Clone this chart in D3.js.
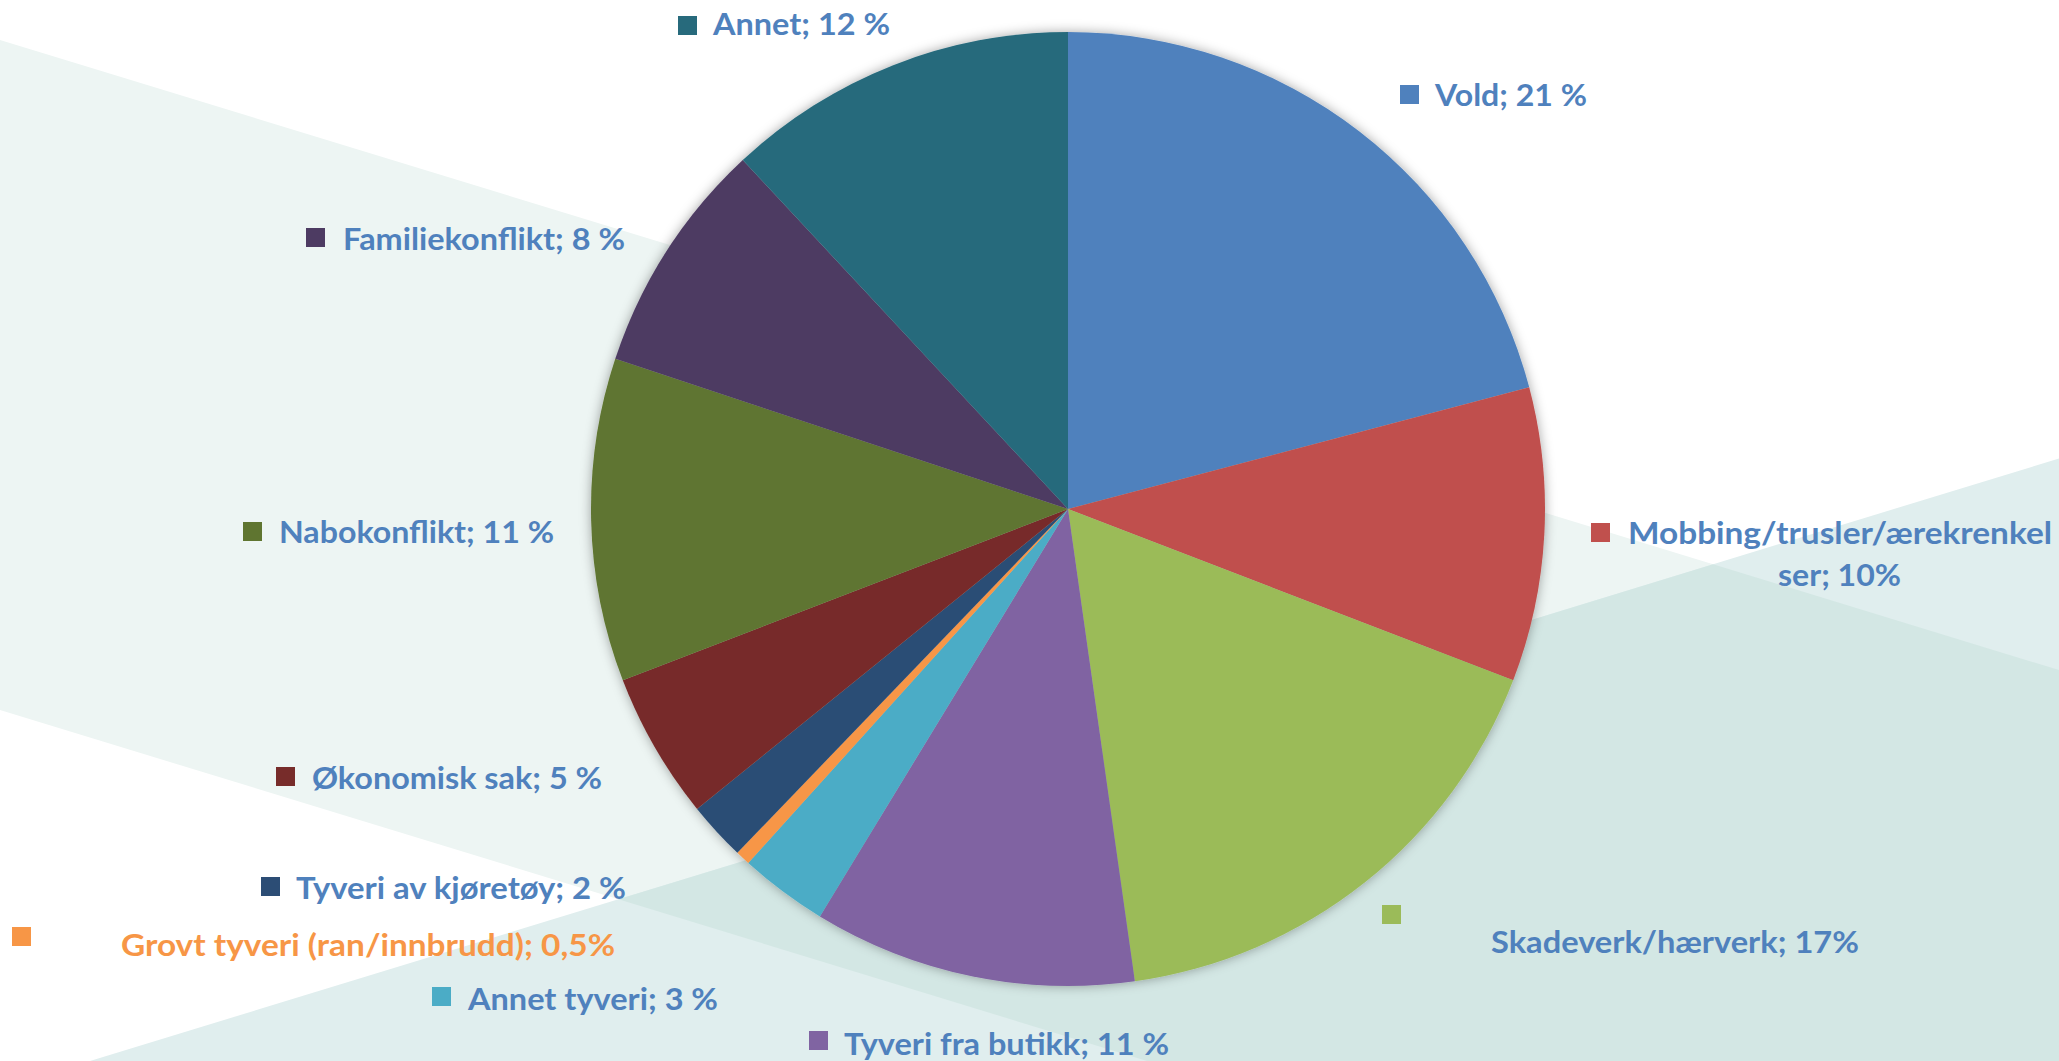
<!DOCTYPE html>
<html lang="no">
<head>
<meta charset="utf-8">
<title>Sakstyper</title>
<script src="https://cdn.jsdelivr.net/npm/d3@7"></script>
<style>
  html, body { margin: 0; padding: 0; background: #ffffff; overflow: hidden; }
  svg { display: block; }
  text { font-family: Lato, "Open Sans", "Noto Sans", sans-serif; font-weight: 700; }
</style>
</head>
<body>
<svg id="chart"></svg>
<script>
// Case categories, their shares (percent) and the label shown next to each
const categories = [
  "Vold",
  "Mobbing/trusler/ærekrenkelser",
  "Skadeverk/hærverk",
  "Tyveri fra butikk",
  "Annet tyveri",
  "Grovt tyveri (ran/innbrudd)",
  "Tyveri av kjøretøy",
  "Økonomisk sak",
  "Nabokonflikt",
  "Familiekonflikt",
  "Annet"
];
const shares = [21, 10, 17, 11, 3, 0.5, 2, 5, 11, 8, 12];
const labelTexts = [
  ["Vold; 21 %"],
  ["Mobbing/trusler/ærekrenkel", "ser; 10%"],
  ["Skadeverk/hærverk; 17%"],
  ["Tyveri fra butikk; 11 %"],
  ["Annet tyveri; 3 %"],
  ["Grovt tyveri (ran/innbrudd); 0,5%"],
  ["Tyveri av kjøretøy; 2 %"],
  ["Økonomisk sak; 5 %"],
  ["Nabokonflikt; 11 %"],
  ["Familiekonflikt; 8 %"],
  ["Annet; 12 %"]
];
const sliceColors = [
  "#4F81BD", "#C0504D", "#9BBB59", "#8064A2", "#4BACC6", "#F79646",
  "#2C4D75", "#772C2A", "#5F7530", "#4D3B62", "#276A7C"
];

// Layout
const W = 2059, H = 1061;
const cx = 1068, cy = 509, R = 477;
const labelBlue = "#4F81BD";
const fontSize = 30;
const swatch = 19;

// Label placement: swatch top-left, text start, baseline, text width per line
const labelLayout = [
  { sx: 1400, sy: 85,  lines: [{ x: 1435, y: 106, w: 152 }] },
  { sx: 1591, sy: 523, lines: [{ x: 1628, y: 544, w: 424 }, { x: 1778, y: 586, w: 123 }] },
  { sx: 1382, sy: 905, lines: [{ x: 1491, y: 953, w: 368 }] },
  { sx: 809,  sy: 1031, lines: [{ x: 844, y: 1055, w: 325 }] },
  { sx: 432,  sy: 987, lines: [{ x: 468, y: 1010, w: 250 }] },
  { sx: 12,   sy: 927, lines: [{ x: 121, y: 956, w: 494 }], color: "#F79646" },
  { sx: 261,  sy: 877, lines: [{ x: 296, y: 899, w: 330 }] },
  { sx: 276,  sy: 767, lines: [{ x: 312, y: 789, w: 290 }] },
  { sx: 243,  sy: 522, lines: [{ x: 279, y: 543, w: 275 }] },
  { sx: 306,  sy: 228, lines: [{ x: 343, y: 250, w: 282 }] },
  { sx: 678,  sy: 16,  lines: [{ x: 713, y: 35,  w: 177 }] }
];

const svg = d3.select("#chart").attr("width", W).attr("height", H);
const defs = svg.append("defs");

// Soft shadow around the pie
const shadow = defs.append("filter").attr("id", "pieShadow")
  .attr("x", "-10%").attr("y", "-10%").attr("width", "120%").attr("height", "120%");
shadow.append("feDropShadow")
  .attr("dx", 0).attr("dy", 0).attr("stdDeviation", 6)
  .attr("flood-color", "#000").attr("flood-opacity", 0.35);

// Decorative background bands
const band1 = [[0, 40], [W, 40 + 0.306 * W], [W, 710 + 0.306 * W], [0, 710]];
const band2 = [[0, 1061 + 0.306 * 90], [W, 1061 - 0.306 * (W - 90)], [W, H + 400], [0, H + 400]];
const poly = d3.line();

defs.append("clipPath").attr("id", "band1Clip")
  .append("path").attr("d", poly(band1) + "Z");

const bg = svg.append("g");
bg.append("rect").attr("width", W).attr("height", H).attr("fill", "#ffffff");
bg.append("path").attr("d", poly(band1) + "Z").attr("fill", "#EDF5F3");
bg.append("path").attr("d", poly(band2) + "Z").attr("fill", "#E0EEEE");
bg.append("path").attr("d", poly(band2) + "Z").attr("fill", "#D3E7E4")
  .attr("clip-path", "url(#band1Clip)");

// Pie
const pie = d3.pie().sort(null).value(d => d.value).startAngle(0).endAngle(2 * Math.PI);
const arc = d3.arc().innerRadius(0).outerRadius(R);
const data = categories.map((c, i) => ({ name: c, value: shares[i], color: sliceColors[i] }));

const pieG = svg.append("g")
  .attr("transform", `translate(${cx},${cy})`)
  .attr("filter", "url(#pieShadow)");
pieG.selectAll("path.slice")
  .data(pie(data))
  .join("path")
  .attr("class", "slice")
  .attr("d", arc)
  .attr("fill", d => d.data.color);

// Labels with colour swatches
const labels = svg.append("g");
data.forEach((d, i) => {
  const L = labelLayout[i];
  const g = labels.append("g");
  g.append("rect")
    .attr("x", L.sx).attr("y", L.sy)
    .attr("width", swatch).attr("height", swatch)
    .attr("fill", d.color);
  labelTexts[i].forEach((t, j) => {
    const ln = L.lines[j];
    g.append("text")
      .attr("x", ln.x).attr("y", ln.y)
      .attr("font-size", fontSize)
      .attr("fill", L.color || labelBlue)
      .attr("textLength", ln.w)
      .attr("lengthAdjust", "spacingAndGlyphs")
      .text(t);
  });
});
</script>
</body>
</html>
